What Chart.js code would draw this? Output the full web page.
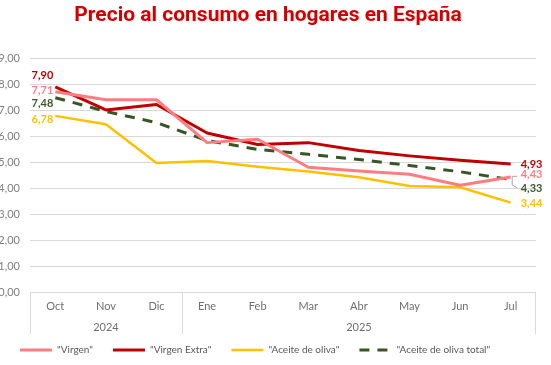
<!DOCTYPE html>
<html><head><meta charset="utf-8">
<script src="https://cdn.jsdelivr.net/npm/chart.js@4.4.1/dist/chart.umd.min.js"></script>
<style>html,body{margin:0;padding:0;background:#fff;overflow:hidden}</style>
</head><body>
<canvas id="c" width="551" height="365" style="display:block;width:551px;height:365px"></canvas>
<script>
// ---- data ----
const categories = ['Oct','Nov','Dic','Ene','Feb','Mar','Abr','May','Jun','Jul'];
const years = ['2024','2024','2024','2025','2025','2025','2025','2025','2025','2025'];
const virgen      = [7.71, 7.40, 7.40, 5.75, 5.88, 4.80, 4.66, 4.53, 4.11, 4.43];
const virgenExtra = [7.90, 7.01, 7.22, 6.12, 5.68, 5.75, 5.45, 5.24, 5.07, 4.93];
const aceiteOliva = [6.78, 6.46, 4.97, 5.04, 4.82, 4.64, 4.42, 4.08, 4.03, 3.44];
const aceiteTotal = [7.48, 6.95, 6.52, 5.83, 5.49, 5.30, 5.10, 4.87, 4.63, 4.33];
const seriesNames = ['"Virgen"', '"Virgen Extra"', '"Aceite de oliva"', '"Aceite de oliva total"'];
const yMin = 0, yMax = 9, yStep = 1;
const titleText = 'Precio al consumo en hogares en España';

const fmt = v => v.toFixed(2).replace('.', ',');
const FONT = 'Lato, "Open Sans", sans-serif';

// end-of-line value labels (style: offsets in px relative to the point)
const endLabels = {
  id: 'endLabels',
  afterDatasetsDraw(chart, args, opts) {
    const ctx = chart.ctx;
    ctx.save();
    ctx.font = 'bold 11px ' + FONT;
    ctx.textBaseline = 'middle';
    chart.data.datasets.forEach((ds, i) => {
      const meta = chart.getDatasetMeta(i);
      const st = opts.styles[i];
      const n = meta.data.length - 1;
      ctx.fillStyle = st.color;
      const p0 = meta.data[0];
      ctx.textAlign = 'right';
      ctx.fillText(fmt(ds.data[0]), p0.x + st.first[0], p0.y + st.first[1]);
      const p1 = meta.data[n];
      ctx.textAlign = 'left';
      ctx.fillText(fmt(ds.data[n]), p1.x + st.last[0], p1.y + st.last[1]);
      if (st.leader) {
        ctx.strokeStyle = '#a6a6a6';
        ctx.lineWidth = 1;
        ctx.beginPath();
        ctx.moveTo(p1.x + 6.5, p1.y - 3.2);
        ctx.lineTo(p1.x + 1.5, p1.y - 3.2);
        ctx.lineTo(p1.x + 1.5, p1.y + 5.5);
        ctx.lineTo(p1.x + 6.5, p1.y + 8.3);
        ctx.stroke();
      }
    });
    ctx.restore();
  }
};

// second level (year) of the category axis
const yearAxis = {
  id: 'yearAxis',
  afterDraw(chart) {
    const ctx = chart.ctx;
    const xs = chart.scales.x;
    const area = chart.chartArea;
    const half = (xs.getPixelForValue(1) - xs.getPixelForValue(0)) / 2;
    const groups = [];
    years.forEach((y, i) => {
      if (!groups.length || groups[groups.length - 1].label !== y) groups.push({label: y, first: i, last: i});
      else groups[groups.length - 1].last = i;
    });
    ctx.save();
    ctx.strokeStyle = '#d9d9d9';
    ctx.lineWidth = 1;
    ctx.fillStyle = '#6f6f6f';
    ctx.font = '11px ' + FONT;
    ctx.textAlign = 'center';
    ctx.textBaseline = 'middle';
    const top = area.bottom, bot = area.bottom + 42;
    groups.forEach((g, k) => {
      const l = xs.getPixelForValue(g.first) - half;
      const r = xs.getPixelForValue(g.last) + half;
      ctx.beginPath();
      ctx.moveTo(Math.round(l) + 0.5, top); ctx.lineTo(Math.round(l) + 0.5, bot);
      if (k === groups.length - 1) { ctx.moveTo(Math.round(r) - 0.5, top); ctx.lineTo(Math.round(r) - 0.5, bot); }
      ctx.stroke();
      ctx.fillText(g.label, (l + r) / 2, area.bottom + 35);
    });
    ctx.restore();
  }
};

const datasets = [
  {label: seriesNames[0], data: virgen, borderColor: '#ff7c80', backgroundColor: '#ff7c80', borderWidth: 3},
  {label: seriesNames[1], data: virgenExtra, borderColor: '#c00000', backgroundColor: '#c00000', borderWidth: 3},
  {label: seriesNames[2], data: aceiteOliva, borderColor: '#ffc000', backgroundColor: '#ffc000', borderWidth: 2.5},
  {label: seriesNames[3], data: aceiteTotal, borderColor: '#375623', backgroundColor: '#375623', borderWidth: 3, borderDash: [10, 8]}
];
datasets.forEach(d => { d.pointRadius = 0; d.pointHoverRadius = 0; d.tension = 0; d.fill = false; d.borderCapStyle = 'butt'; d.borderJoinStyle = 'round'; });

new Chart(document.getElementById('c'), {
  type: 'line',
  data: {labels: categories, datasets},
  plugins: [endLabels, yearAxis],
  options: {
    responsive: false,
    animation: false,
    devicePixelRatio: 1,
    layout: {padding: {left: 0, right: 15, top: 0, bottom: 0}},
    scales: {
      x: {
        type: 'category',
        offset: true,
        grid: {display: false, drawTicks: false},
        border: {display: false},
        ticks: {color: '#6f6f6f', font: {family: FONT, size: 11}, padding: 8, maxRotation: 0, autoSkip: false},
        afterFit(s) { s.height = 33; }
      },
      y: {
        min: yMin, max: yMax,
        grid: {color: '#d9d9d9', lineWidth: 1, drawTicks: false},
        border: {display: false},
        ticks: {stepSize: yStep, color: '#7f7f7f', font: {family: FONT, size: 11}, padding: 10, callback: v => fmt(v)},
        afterFit(s) { s.width = 30; }
      }
    },
    plugins: {
      title: {display: true, text: titleText, color: '#d40000', font: {family: 'Roboto', size: 21, weight: 'bold'}, padding: {top: 3, bottom: 30}},
      legend: {
        position: 'bottom', align: 'start',
        labels: {
          usePointStyle: true, pointStyleWidth: 32, padding: 20,
          color: '#595959', font: {family: FONT, size: 10},
          generateLabels(chart) {
            return chart.data.datasets.map((ds, i) => ({
              text: ds.label, fillStyle: ds.borderColor, strokeStyle: ds.borderColor,
              lineWidth: ds.borderWidth, lineDash: ds.borderDash || [], lineCap: 'butt',
              pointStyle: 'line', hidden: !chart.isDatasetVisible(i), datasetIndex: i, fontColor: '#595959'
            }));
          }
        }
      },
      tooltip: {enabled: false},
      endLabels: {
        styles: [
          {color: '#ff7c80', first: [-2, -1], last: [10, -2]},
          {color: '#c00000', first: [-2, -11.5], last: [10, 0.6]},
          {color: '#ffc000', first: [-2, 4], last: [10, 1]},
          {color: '#3a5a27', first: [-2, 6], last: [10, 9], leader: true}
        ]
      }
    }
  }
});
</script>
</body></html>
